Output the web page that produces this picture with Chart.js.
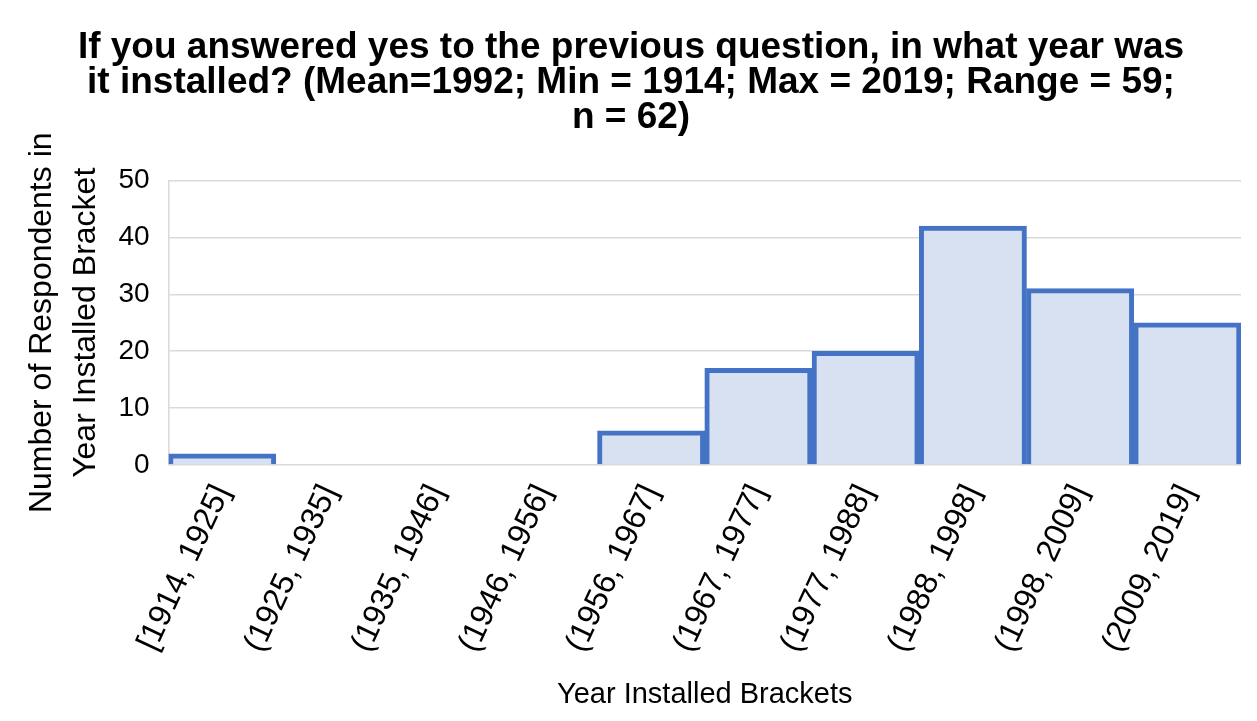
<!DOCTYPE html>
<html>
<head>
<meta charset="utf-8">
<title>Year Installed</title>
<script src="https://cdn.jsdelivr.net/npm/chart.js@4.4.1/dist/chart.umd.min.js"></script>
<style>
  html, body { margin: 0; padding: 0; background: #fff; }
  #wrap { width: 1257px; height: 721px; }
</style>
</head>
<body>
<div id="wrap"><canvas id="chartHist"></canvas></div>
<script>
// Brackets de ano de instalação e contagens
const brackets = [
  '[1914, 1925]', '(1925, 1935]', '(1935, 1946]', '(1946, 1956]', '(1956, 1967]',
  '(1967, 1977]', '(1977, 1988]', '(1988, 1998]', '(1998, 2009]', '(2009, 2019]'
];
const respondents = [2, 0, 0, 0, 6, 17, 20, 42, 31, 25];
const yTicks = [0, 10, 20, 30, 40, 50];

const titleLines = [
  'If you answered yes to the previous question, in what year was',
  'it installed? (Mean=1992; Min = 1914; Max = 2019; Range = 59;',
  'n = 62)'
];

const FONT = 'Liberation Sans, Arial, sans-serif';
const GRID = '#d9d9d9';

const ctx = document.getElementById('chartHist');
new Chart(ctx, {
  type: 'bar',
  data: {
    labels: brackets,
    datasets: [{
      data: respondents,
      backgroundColor: '#d8e1f2',
      borderColor: '#4472c4',
      borderWidth: 5,
      barPercentage: 1,
      categoryPercentage: 1
    }]
  },
  options: {
    responsive: true,
    maintainAspectRatio: false,
    animation: false,
    layout: { padding: { left: 21, right: 16, top: 30, bottom: 6 } },
    plugins: {
      legend: { display: false },
      tooltip: { enabled: false },
      title: {
        display: true,
        text: titleLines,
        color: '#000',
        font: { family: FONT, size: 37, weight: 'bold', lineHeight: 0.95 },
        padding: { top: 0, bottom: 45 }
      }
    },
    scales: {
      x: {
        grid: { display: false, drawTicks: false },
        border: { display: false },
        ticks: {
          color: '#000',
          autoSkip: false,
          minRotation: 65,
          maxRotation: 65,
          padding: 14,
          font: { family: FONT, size: 32 }
        },
        title: {
          display: true,
          text: 'Year Installed Brackets',
          color: '#000',
          font: { family: FONT, size: 29 },
          padding: { top: 5, bottom: 3 }
        }
      },
      y: {
        min: 0,
        max: 50,
        afterBuildTicks: axis => { axis.ticks = yTicks.map(v => ({ value: v })); },
        grid: { color: GRID, lineWidth: 1.5, drawTicks: false },
        border: { display: true, color: GRID, width: 1.5 },
        ticks: {
          color: '#000',
          padding: 19,
          font: { family: FONT, size: 28 }
        },
        title: {
          display: true,
          text: ['Number of Respondents in', 'Year Installed Bracket'],
          color: '#000',
          font: { family: FONT, size: 32, lineHeight: 1.35 },
          padding: { top: 0, bottom: -8 }
        }
      }
    }
  }
});
</script>
</body>
</html>
